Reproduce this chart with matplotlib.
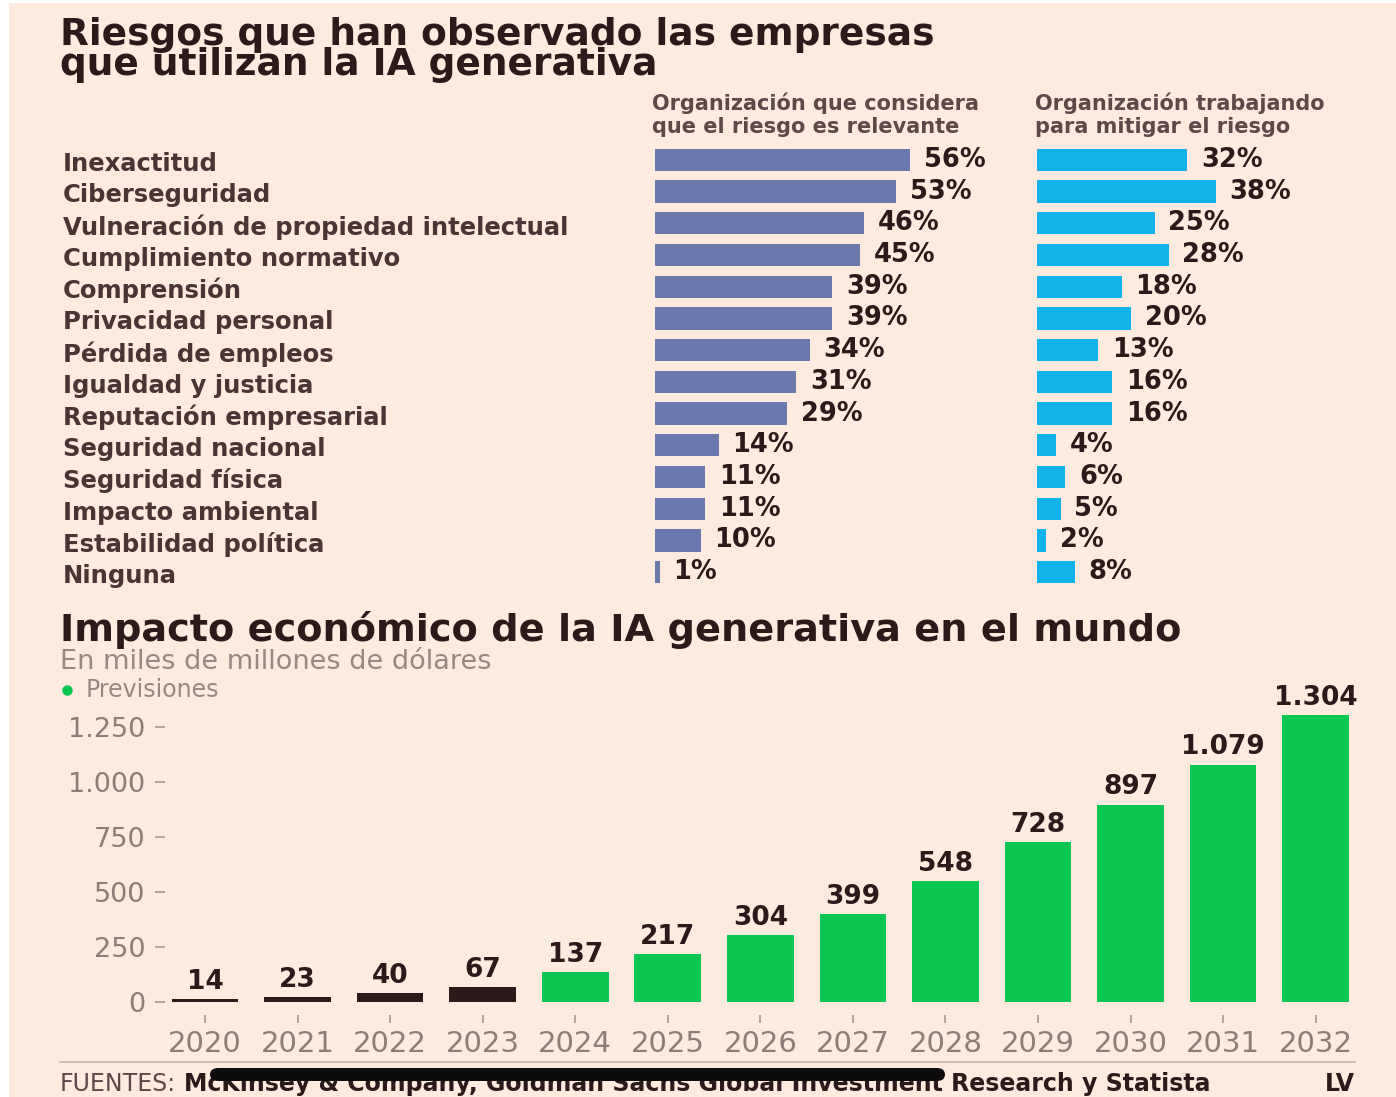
import matplotlib
matplotlib.use("Agg")
import matplotlib.pyplot as plt
from matplotlib.lines import Line2D
from matplotlib.patches import Rectangle, FancyBboxPatch
from matplotlib.transforms import blended_transform_factory

# Datos: riesgos de la IA generativa
riesgos = [
    "Inexactitud", "Ciberseguridad", "Vulneración de propiedad intelectual",
    "Cumplimiento normativo", "Comprensión", "Privacidad personal",
    "Pérdida de empleos", "Igualdad y justicia", "Reputación empresarial",
    "Seguridad nacional", "Seguridad física", "Impacto ambiental",
    "Estabilidad política", "Ninguna",
]
relevante = [56, 53, 46, 45, 39, 39, 34, 31, 29, 14, 11, 11, 10, 1]
mitigando = [32, 38, 25, 28, 18, 20, 13, 16, 16, 4, 6, 5, 2, 8]

# Datos: impacto económico (miles de millones de dólares)
anios = [2020, 2021, 2022, 2023, 2024, 2025, 2026, 2027, 2028, 2029, 2030, 2031, 2032]
impacto = [14, 23, 40, 67, 137, 217, 304, 399, 548, 728, 897, 1079, 1304]
primer_anio_prevision = 2024
yticks = [0, 250, 500, 750, 1000, 1250]

W, H = 1396, 1097
BG = "#fdebdf"
DARK = "#2a1a1a"
TXT = "#4a3434"
GRAY = "#8f7c77"
PURPLE = "#6b78ae"
BLUE = "#12b2ea"
GREEN = "#0cc653"


def fx(px):
    return px / W


def fy(py):
    return 1 - py / H


def miles(v):
    return f"{v:,}".replace(",", ".")


plt.rcParams["font.family"] = ["DejaVu Sans"]
fig = plt.figure(figsize=(W / 100, H / 100), dpi=100, facecolor="white")
fig.add_artist(Rectangle((fx(9), 0), 1 - fx(9), fy(3), transform=fig.transFigure,
                         facecolor=BG, edgecolor="none", zorder=-10))

# Titulo superior (un solo texto de dos lineas)
fig.text(fx(60), fy(17), "Riesgos que han observado las empresas\nque utilizan la IA generativa",
         fontsize=27, fontweight="bold", color=DARK, va="top", linespacing=0.8)

# Cabeceras de columnas
fig.text(fx(652), fy(92), "Organización que considera\nque el riesgo es relevante",
         fontsize=15, fontweight="bold", color="#5e4848", va="top", linespacing=1.22)
fig.text(fx(1035), fy(92), "Organización trabajando\npara mitigar el riesgo",
         fontsize=15, fontweight="bold", color="#5e4848", va="top", linespacing=1.22)

# Barras horizontales
top, bottom = 144, 588
axL = fig.add_axes([fx(655), fy(bottom), 273 / W, (bottom - top) / H])
axR = fig.add_axes([fx(1037), fy(bottom), 282 / W, (bottom - top) / H])
ypos = list(range(len(riesgos)))
for ax, vals, col in [(axL, relevante, PURPLE), (axR, mitigando, BLUE)]:
    ax.barh(ypos, vals, height=0.7, color=col)
    ax.set_xlim(0, 60)
    ax.set_ylim(len(riesgos) - 0.5, -0.5)
    ax.axis("off")
    for y, v in zip(ypos, vals):
        ax.annotate(f"{v}%", (v, y), xytext=(10, 0), textcoords="offset points",
                    va="center", ha="left", fontsize=18.5, fontweight="bold",
                    color=DARK)

tr = blended_transform_factory(fig.transFigure, axL.transData)
for y, name in zip(ypos, riesgos):
    fig.text(fx(63), y + 0.12, name, transform=tr, fontsize=17.5, fontweight="bold",
             color=TXT, va="center", ha="left")

# Titulo inferior
fig.text(fx(60), fy(641), "Impacto económico de la IA generativa en el mundo",
         fontsize=27.5, fontweight="bold", color=DARK, va="baseline")
fig.text(fx(60), fy(669), "En miles de millones de dólares", fontsize=19.5,
         color="#9b8782", va="baseline")
fig.add_artist(Line2D([fx(67)], [fy(690)], marker="o", markersize=6.5, color=GREEN,
                      transform=fig.transFigure))
fig.text(fx(86), fy(690), "Previsiones", fontsize=17, color="#9b8782", va="center")

# Grafico de columnas
axB = fig.add_axes([fx(165), fy(1002), 1197 / W, (1002 - 694) / H])
axB.set_facecolor("none")
xpos = list(range(len(anios)))
colores = [GREEN if a >= primer_anio_prevision else DARK for a in anios]
axB.bar(xpos, impacto, width=0.72, color=colores)
for x, v in zip(xpos, impacto):
    axB.annotate(miles(v), (x, v), xytext=(0, 3), textcoords="offset points",
                 ha="center", va="bottom", fontsize=19, fontweight="bold", color=DARK)
axB.set_xlim(-0.432, 12.5)
axB.set_ylim(0, 1400)
axB.set_xticks(xpos, [str(a) for a in anios])
axB.set_yticks(yticks, [miles(t) for t in yticks])
for s in axB.spines.values():
    s.set_visible(False)
axB.spines["bottom"].set_position(("outward", 9))
axB.tick_params(axis="x", length=6, width=1.2, color="#a89590", pad=5,
                labelsize=21, labelcolor=GRAY)
axB.tick_params(axis="y", length=7, width=1.2, color="#a89590", pad=7,
                labelsize=19.5, labelcolor=GRAY)

# Pie
fig.add_artist(Line2D([fx(60), fx(1355)], [fy(1062), fy(1062)], color="#c9b6ae",
                      linewidth=1.3, transform=fig.transFigure))
t1 = fig.text(fx(60), fy(1084), "FUENTES:", fontsize=17, color="#5e4848", va="center")
axB.annotate("McKinsey & Company, Goldman Sachs Global Investment Research y Statista",
             xy=(1, 0), xycoords=t1, xytext=(6, 0), textcoords="offset points",
             va="bottom", ha="left", fontsize=17, fontweight="bold", color=DARK,
             annotation_clip=False)
fig.text(fx(1355), fy(1084), "LV", fontsize=17, fontweight="bold", color=DARK,
         ha="right", va="center")
fig.add_artist(FancyBboxPatch((fx(210), fy(1081)), fx(945) - fx(210), fy(1068) - fy(1081),
                              boxstyle="round,pad=0,rounding_size=0.006",
                              transform=fig.transFigure, facecolor="#0d0b0b",
                              edgecolor="none", zorder=5))

fig.savefig("out.png", dpi=100, facecolor=fig.get_facecolor())
